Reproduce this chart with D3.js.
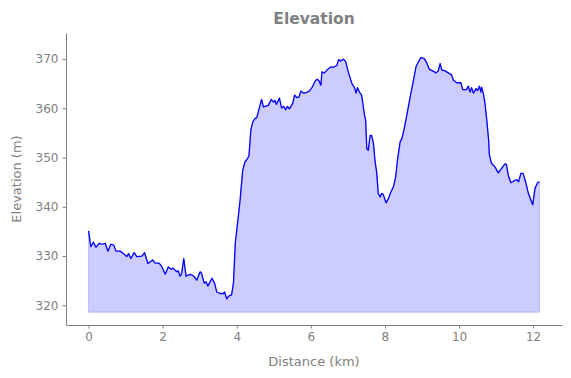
<html>

<head>
    <meta charset="utf-8">
    <title>Elevation</title>
    <style>
        body { margin: 0; background: white; }
        text { font-family: "DejaVu Sans", sans-serif; }
    </style>
</head>

<body>
    <script src="https://cdn.jsdelivr.net/npm/d3@7"></script>
    <script>
        var width = 571;
        var height = 378;

        // distance along the track (km)
        var distance = [0.00, 0.06, 0.13, 0.20, 0.29, 0.37, 0.45, 0.52, 0.60, 0.68, 0.74, 0.85, 0.94, 1.03, 1.08, 1.14, 1.23, 1.30, 1.44, 1.51,
            1.60, 1.73, 1.79, 1.91, 1.98, 2.07, 2.15, 2.23, 2.27, 2.38, 2.42, 2.47, 2.51, 2.57, 2.63, 2.74, 2.83, 2.92, 3.01, 3.05,
            3.12, 3.17, 3.22, 3.33, 3.40, 3.46, 3.55, 3.64, 3.67, 3.73, 3.79, 3.86, 3.91, 3.96, 3.99, 4.09, 4.16, 4.22, 4.29, 4.33,
            4.38, 4.43, 4.49, 4.54, 4.59, 4.67, 4.72, 4.85, 4.93, 4.99, 5.03, 5.07, 5.15, 5.21, 5.27, 5.32, 5.37, 5.42, 5.51, 5.56,
            5.62, 5.68, 5.73, 5.80, 5.87, 5.96, 6.03, 6.12, 6.17, 6.22, 6.27, 6.30, 6.37, 6.45, 6.54, 6.60, 6.70, 6.75, 6.80, 6.88,
            6.94, 7.01, 7.11, 7.18, 7.22, 7.26, 7.31, 7.37, 7.45, 7.48, 7.51, 7.55, 7.60, 7.64, 7.69, 7.73, 7.78, 7.82, 7.87, 7.91,
            7.95, 8.03, 8.09, 8.16, 8.23, 8.29, 8.34, 8.41, 8.46, 8.52, 8.59, 8.68, 8.77, 8.84, 8.90, 8.97, 9.06, 9.12, 9.20, 9.29,
            9.38, 9.44, 9.49, 9.54, 9.60, 9.71, 9.80, 9.85, 9.94, 10.05, 10.10, 10.20, 10.25, 10.30, 10.34, 10.39, 10.46, 10.50, 10.55, 10.59,
            10.61, 10.66, 10.70, 10.75, 10.80, 10.82, 10.88, 10.97, 11.06, 11.15, 11.24, 11.28, 11.33, 11.40, 11.49, 11.56, 11.61, 11.67, 11.73, 11.80,
            11.87, 11.94, 11.99, 12.05, 12.12, 12.17];

        // elevation (m)
        var elevation = [335.1, 331.9, 332.8, 331.8, 332.6, 332.4, 332.6, 331.0, 332.4, 332.2, 331.0, 331.0, 330.5, 329.9, 330.5, 329.5, 330.7, 329.9, 330.0, 330.7,
            328.5, 329.2, 328.6, 328.5, 327.8, 326.3, 327.8, 327.3, 327.6, 326.8, 327.0, 325.9, 326.4, 329.5, 325.9, 326.3, 326.0, 325.1, 326.8, 326.5,
            324.5, 324.8, 323.9, 325.5, 324.5, 322.7, 322.4, 322.4, 322.7, 321.3, 321.9, 322.1, 324.5, 332.6, 334.6, 341.4, 347.4, 349.1, 349.8, 350.4,
            355.6, 357.2, 357.9, 358.1, 359.6, 361.8, 360.3, 360.6, 361.8, 361.3, 361.6, 360.8, 362.1, 360.1, 360.4, 359.7, 360.4, 359.9, 361.0, 362.7,
            362.2, 362.3, 363.5, 363.1, 363.2, 363.5, 364.2, 365.6, 365.9, 365.6, 364.7, 367.4, 367.2, 367.9, 368.4, 368.3, 368.7, 369.9, 369.6, 370.0,
            369.5, 367.4, 365.0, 364.2, 363.1, 364.2, 363.3, 362.7, 358.6, 357.6, 351.8, 351.5, 354.5, 354.5, 352.9, 349.5, 346.8, 342.7, 342.0, 342.7,
            342.6, 340.8, 341.6, 343.0, 344.1, 346.1, 349.6, 353.2, 353.9, 355.9, 358.6, 362.3, 365.7, 368.5, 369.4, 370.3, 370.1, 369.4, 367.9, 367.6,
            367.2, 367.6, 369.1, 367.7, 367.7, 367.2, 366.8, 365.7, 365.2, 365.2, 363.8, 363.8, 364.5, 363.3, 364.2, 363.1, 364.0, 363.6, 364.5, 363.3,
            364.3, 362.9, 361.0, 357.6, 353.5, 350.5, 348.8, 348.1, 346.9, 347.8, 348.7, 348.6, 346.4, 344.9, 345.3, 345.5, 345.1, 346.8, 346.8, 345.0,
            342.8, 341.4, 340.4, 343.7, 344.9, 345.1];

        var baseline = 318.6;   // bottom of the filled area
        var xTicks = [0, 2, 4, 6, 8, 10, 12];
        var yTicks = [320, 330, 340, 350, 360, 370];

        var grey = "#808080";

        var svg = d3.select("body")
            .append("svg")
            .attr("width", width)
            .attr("height", height);

        var x = d3.scaleLinear().domain([-0.61, 12.78]).range([66, 562]);
        var y = d3.scaleLinear().domain([316.0, 375.3]).range([325, 33]);

        var points = distance.map((d, i) => [d, elevation[i]]);

        var area = d3.area()
            .x(d => x(d[0]))
            .y0(y(baseline))
            .y1(d => y(d[1]));

        var line = d3.line()
            .x(d => x(d[0]))
            .y(d => y(d[1]));

        svg.append("path")
            .attr("d", area(points))
            .attr("fill", "rgba(0,0,255,0.2)")
            .attr("stroke", "rgba(0,0,255,0.2)")
            .attr("stroke-width", 1);

        svg.append("path")
            .attr("d", line(points))
            .attr("fill", "none")
            .attr("stroke", "blue")
            .attr("stroke-width", 1.3)
            .attr("stroke-linejoin", "round");

        //坐标轴
        var xAxis = svg.append("g")
            .attr("transform", "translate(0,325)")
            .call(d3.axisBottom(x).tickValues(xTicks).tickSize(3.5).tickSizeOuter(0).tickPadding(4));
        var yAxis = svg.append("g")
            .attr("transform", "translate(66,0)")
            .call(d3.axisLeft(y).tickValues(yTicks).tickSize(3.5).tickSizeOuter(0).tickPadding(4));

        [xAxis, yAxis].forEach(function (g) {
            g.selectAll("path, line").attr("stroke", grey).attr("stroke-width", 1);
            g.selectAll("text")
                .attr("fill", grey)
                .attr("font-size", 12)
                .attr("font-family", "DejaVu Sans, sans-serif");
        });

        svg.append("text")
            .attr("x", 314)
            .attr("y", 24)
            .attr("text-anchor", "middle")
            .attr("font-size", 15.5)
            .attr("font-weight", "bold")
            .attr("fill", grey)
            .text("Elevation");

        svg.append("text")
            .attr("x", 314)
            .attr("y", 366)
            .attr("text-anchor", "middle")
            .attr("font-size", 13)
            .attr("fill", grey)
            .text("Distance (km)");

        svg.append("text")
            .attr("transform", "translate(21,179) rotate(-90)")
            .attr("text-anchor", "middle")
            .attr("font-size", 13)
            .attr("fill", grey)
            .text("Elevation (m)");
    </script>
</body>

</html>
